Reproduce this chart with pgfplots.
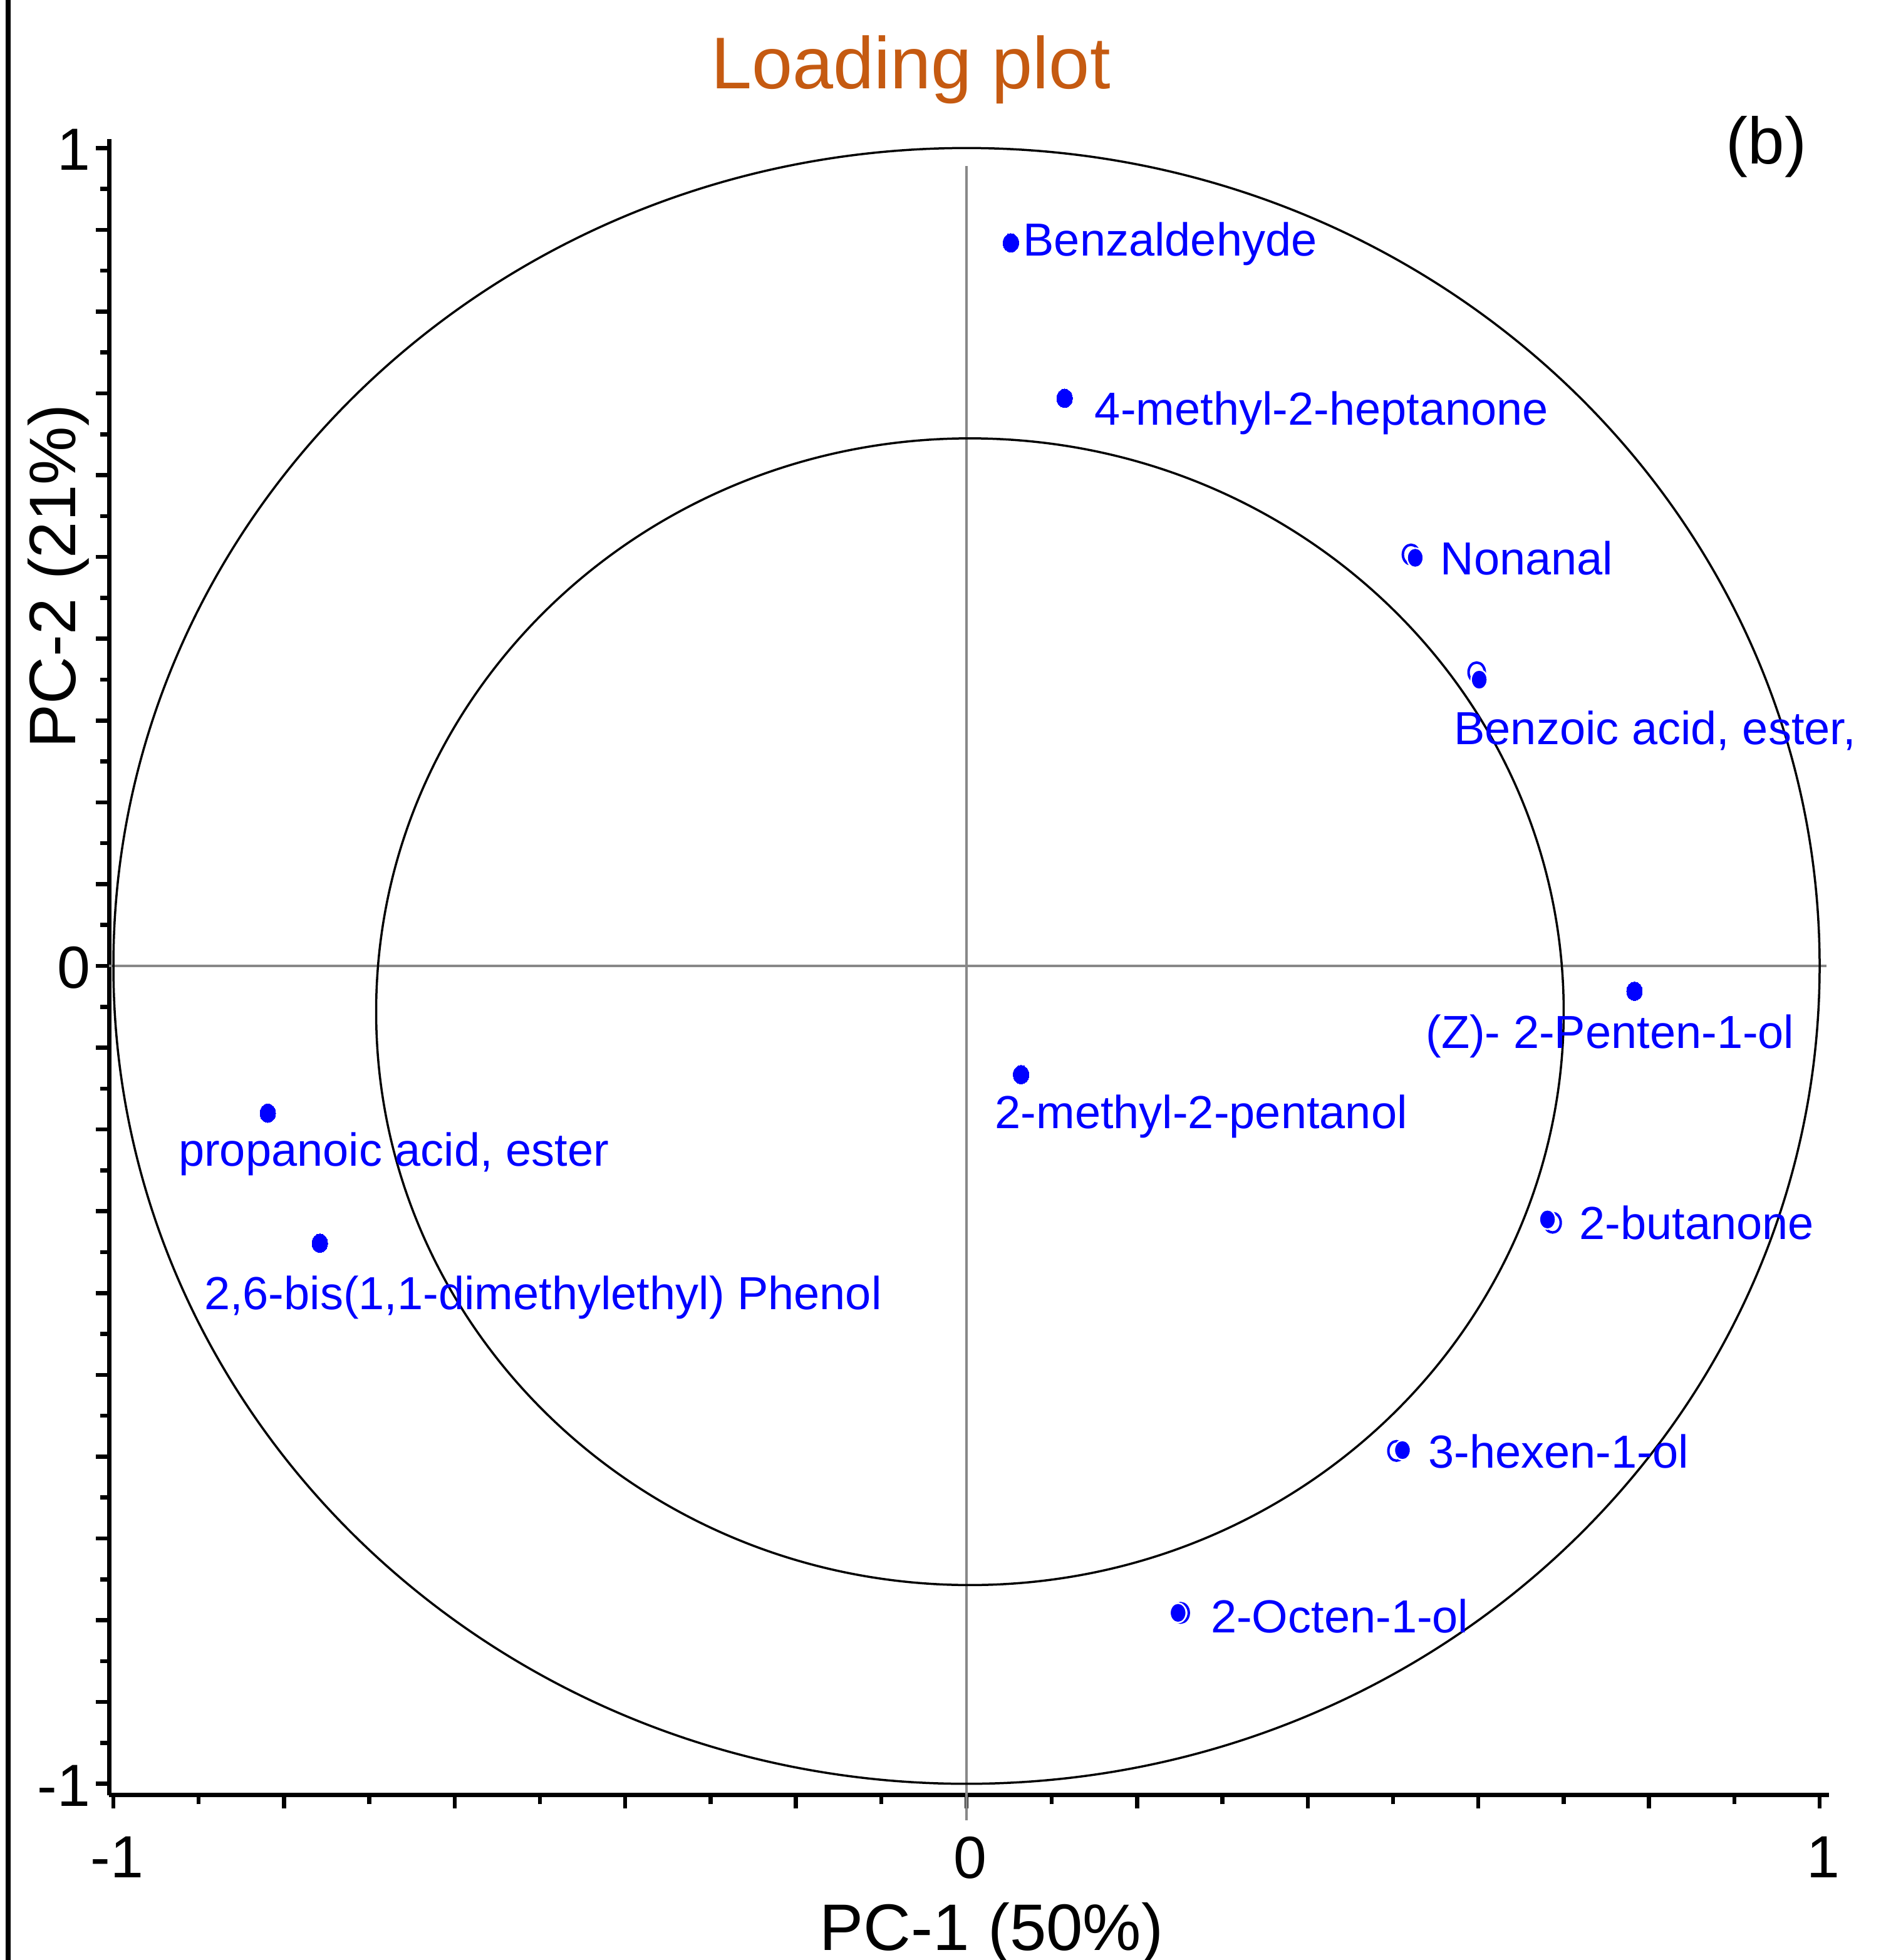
\documentclass[border=0pt]{standalone}
\usepackage{fontspec}
\setmainfont{Liberation Sans}
\usepackage{pgfplots}
\pgfplotsset{compat=1.18}
\definecolor{titleorange}{RGB}{197,90,17}
\definecolor{ptblue}{RGB}{0,0,255}
\definecolor{refgray}{RGB}{136,136,136}

\begin{document}
\begin{tikzpicture}
\begin{axis}[
  at={(17.42pt,26.3pt)}, anchor=south west,
  scale only axis, width=274.58pt, height=264.4pt,
  xmin=-1.005, xmax=1.011, ymin=-1.014, ymax=1.011,
  axis x line*=bottom, axis y line*=left,
  axis line style={line width=0.7pt},
  xtick={-1,-0.8,-0.6,-0.4,-0.2,0,0.2,0.4,0.6,0.8,1},
  xticklabels={-1,{},{},{},{},0,{},{},{},{},1},
  ytick={-1,-0.9,-0.8,-0.7,-0.6,-0.5,-0.4,-0.3,-0.2,-0.1,0,0.1,0.2,0.3,0.4,0.5,0.6,0.7,0.8,0.9,1},
  yticklabels={-1,{},{},{},{},{},{},{},{},{},0,{},{},{},{},{},{},{},{},{},1},
  minor x tick num=1, minor y tick num=1,
  tick align=outside,
  major tick length=2.1pt, minor tick length=1.45pt,
  every tick/.style={black, line width=0.65pt},
  tick label style={font=\fontsize{9.5}{10}\selectfont},
  xticklabel style={yshift=-1pt, xshift=0.6pt},
  yticklabel style={xshift=2.6pt, yshift=-0.3pt},
  clip=false,
  title={Loading plot},
  every axis title/.style={at={(0.4661,1.0306)}, anchor=base, inner sep=0pt, text=titleorange, font=\fontsize{11.7}{13}\selectfont},
  xlabel={PC-1 (50\%)},
  every axis x label/.style={at={(0.5131,-0.0938)}, anchor=base, inner sep=0pt, font=\fontsize{10.5}{12}\selectfont},
  ylabel={PC-2 (21\%)},
  every axis y label/.style={at={(-0.0197,0.736)}, anchor=base, rotate=90, inner sep=0pt, font=\fontsize{10.5}{12}\selectfont},
]
% reference lines and circles
\draw[refgray, line width=0.35pt] (axis cs:0,0.978) -- (axis cs:0,-1.045);
\draw[refgray, line width=0.35pt] (axis cs:-1.005,0) -- (axis cs:1.008,0);
\draw[black, line width=0.35pt] (axis cs:0,0) ellipse [x radius=1, y radius=1];
\draw[black, line width=0.35pt] (axis cs:0.004,-0.056) ellipse [x radius=0.696, y radius=0.701];

% hollow (second) markers
\addplot[only marks, mark=*, mark size=1.3pt,
  mark options={draw=ptblue, fill=white, line width=0.4pt, yscale=1.2}]
  coordinates {(0.521,0.503) (0.598,0.359) (0.687,-0.314) (0.504,-0.593) (0.251,-0.791)};
% filled markers for doubled points
\addplot[only marks, mark=*, mark size=1.3pt,
  mark options={draw=white, fill=ptblue, line width=0.25pt, yscale=1.2}]
  coordinates {(0.526,0.499) (0.601,0.350) (0.681,-0.310) (0.511,-0.592) (0.248,-0.791)};
% single filled markers
\addplot[only marks, mark=*, mark size=1.25pt,
  mark options={draw=ptblue, fill=ptblue, line width=0pt, yscale=1.2}]
  coordinates {(0.052,0.884) (0.115,0.694) (0.783,-0.031) (0.064,-0.133) (-0.819,-0.180) (-0.758,-0.339)};

\begin{scope}[every node/.style={anchor=base west, inner sep=0pt, text=ptblue, font=\fontsize{7.4}{8}\selectfont}]
\node at (axis cs:0.065,0.868) {Benzaldehyde};
\node at (axis cs:0.149,0.661) {4-methyl-2-heptanone};
\node at (axis cs:0.554,0.478) {Nonanal};
\node at (axis cs:0.570,0.271) {Benzoic acid, ester,};
\node at (axis cs:0.537,-0.101) {(Z)- 2-Penten-1-ol};
\node at (axis cs:0.032,-0.199) {2-methyl-2-pentanol};
\node at (axis cs:-0.925,-0.245) {propanoic acid, ester};
\node at (axis cs:-0.895,-0.420) {2,6-bis(1,1-dimethylethyl) Phenol};
\node at (axis cs:0.717,-0.334) {2-butanone};
\node at (axis cs:0.540,-0.614) {3-hexen-1-ol};
\node at (axis cs:0.285,-0.815) {2-Octen-1-ol};
\end{scope}
\node[anchor=base, inner sep=0pt, font=\fontsize{10.5}{12}\selectfont] at (axis description cs:0.9636,0.9849) {(b)};
\end{axis}
\draw[line width=0.8pt] (1.3pt,0pt) -- (1.3pt,312.9pt);
\pgfresetboundingbox
\useasboundingbox (0pt,0pt) rectangle (301pt,312.9pt);
\end{tikzpicture}
\end{document}
